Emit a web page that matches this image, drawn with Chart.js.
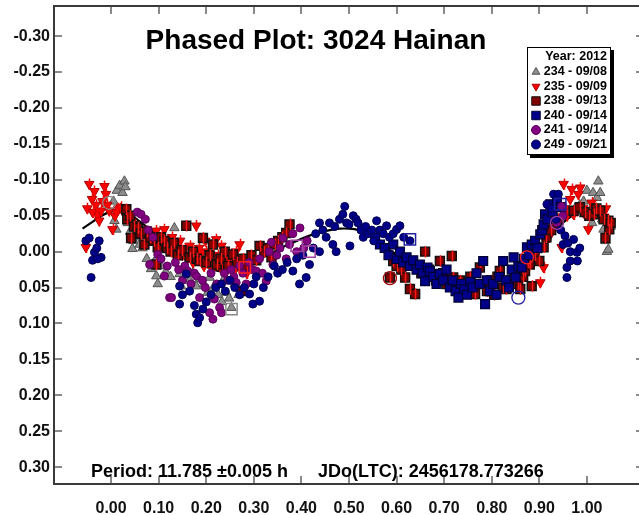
<!DOCTYPE html>
<html><head><meta charset="utf-8">
<script src="https://cdn.jsdelivr.net/npm/chart.js@4/dist/chart.umd.min.js"></script>
<style>html,body{margin:0;padding:0;background:#fff;overflow:hidden;}
#wrap{width:648px;height:515px;position:relative;}</style>
</head><body><div id="wrap"><canvas id="c" width="648" height="515"></canvas></div>
<script>
// ---------- DATA ----------
const titleText = "Phased Plot: 3024 Hainan";
const periodText = "Period: 11.785 \u00B10.005 h";
const jdText = "JDo(LTC): 2456178.773266";
const legendTitle = "Year: 2012";
const seriesNames = ["234 - 09/08","235 - 09/09","238 - 09/13","240 - 09/14","241 - 09/14","249 - 09/21"];
const xTicks = [0.00,0.10,0.20,0.30,0.40,0.50,0.60,0.70,0.80,0.90,1.00];
const yTicks = [-0.30,-0.25,-0.20,-0.15,-0.10,-0.05,0.00,0.05,0.10,0.15,0.20,0.25,0.30];

// [phase, reduced magnitude]
const s234 = [[0.005,-0.070],[0.012,-0.085],[0.018,-0.092],[0.024,-0.082],[0.028,-0.098],[0.030,-0.090],[0.007,-0.043],[0.011,-0.031],[0.020,-0.060],[0.035,-0.040],[0.040,-0.028],[0.045,-0.004],[0.047,-0.015],[0.052,-0.020],[0.060,-0.010],[0.066,-0.005],[0.075,0.010],[0.084,0.024],[0.090,0.015],[0.095,0.034],[0.098,0.045],[0.105,0.020],[0.115,0.028],[0.125,0.035],[0.133,-0.033],[0.144,0.031],[0.147,0.048],[0.155,0.025],[0.165,0.040],[0.172,0.030],[0.179,0.048],[0.186,0.038],[0.195,0.045],[0.203,0.057],[0.207,0.036],[0.215,0.050],[0.225,0.060],[0.233,0.070],[0.239,0.036],[0.242,0.057],[0.248,0.065],[0.253,0.078],[0.260,0.045],[0.268,0.060],
[0.955,-0.060],[0.965,-0.055],[0.975,-0.060],[0.985,-0.065],[0.993,-0.070],[1.000,-0.085],[1.007,-0.057],[1.011,-0.040],[1.013,-0.082],[1.018,-0.050],[1.021,-0.075],[1.024,-0.098],[1.028,-0.082],[1.032,-0.045],[1.035,-0.031],[1.039,-0.015],[1.042,0.000],[1.045,-0.003],[1.050,-0.035]];
const s235 = [[-0.053,-0.006],[-0.046,-0.094],[-0.040,-0.073],[-0.035,-0.084],[-0.030,-0.052],[-0.025,-0.043],[-0.021,-0.057],[-0.014,-0.091],[-0.011,-0.080],[-0.008,-0.065],[-0.004,-0.057],[0.003,-0.031],[0.008,-0.050],[0.011,-0.055],[0.015,-0.060],[0.020,-0.062],[-0.050,-0.060],[-0.039,-0.055],[-0.032,-0.065],[-0.018,-0.070],
[0.030,-0.050],[0.040,-0.045],[0.050,-0.038],[0.060,-0.030],[0.070,-0.028],[0.080,-0.020],[0.090,-0.015],[0.095,-0.029],[0.105,-0.012],[0.112,-0.031],[0.120,-0.005],[0.130,0.000],[0.140,-0.010],[0.150,0.005],[0.160,0.010],[0.165,-0.008],[0.172,0.015],[0.179,-0.036],[0.186,0.012],[0.195,0.020],[0.205,0.010],[0.213,0.025],[0.221,-0.017],[0.230,0.022],[0.240,0.030],[0.250,0.018],[0.260,0.025],[0.270,-0.010],[0.280,0.020],[0.290,0.015],[0.300,0.010],
[0.128,-0.020],[0.145,-0.015],[0.185,-0.005],[0.200,0.000],[0.225,0.005],[0.245,0.010],[0.262,0.000],
[0.100,-0.018],[0.110,-0.008],[0.135,-0.012],[0.155,-0.004],[0.168,0.004],[0.190,0.002],[0.208,0.016],[0.218,0.008],[0.235,0.014],[0.255,0.006],[0.275,0.012],[0.285,0.030],[0.232,-0.008],[0.198,-0.015],
[0.902,0.043],[0.909,0.022],[0.920,-0.020],[0.930,-0.035],[0.940,-0.045],[0.947,-0.006],[0.951,-0.094],[0.954,-0.060],[0.958,-0.050],[0.965,-0.073],[0.968,-0.087],[0.972,-0.052],[0.979,-0.057],[0.982,-0.080],[0.986,-0.089],[0.990,-0.060],[0.993,-0.054],[1.000,-0.057],[1.003,-0.031],[1.010,-0.068],[1.015,-0.055],[1.020,-0.060],[1.025,-0.052],[1.030,-0.048],[1.035,-0.055],[1.040,-0.060],[1.045,-0.045]];
const s238 = [[0.032,-0.059],[0.034,-0.045],[0.040,-0.050],[0.042,-0.019],[0.048,-0.035],[0.056,-0.033],[0.062,-0.025],[0.070,-0.010],[0.075,-0.028],[0.082,-0.020],[0.090,-0.015],[0.095,0.018],[0.098,-0.006],[0.105,-0.020],[0.112,-0.015],[0.118,-0.005],[0.125,0.000],[0.132,-0.012],[0.140,0.005],[0.148,-0.002],[0.158,-0.036],[0.165,0.008],[0.172,0.000],[0.180,0.010],[0.186,0.013],[0.193,-0.019],[0.200,0.015],[0.207,0.005],[0.214,-0.010],[0.222,0.018],[0.230,0.010],[0.239,0.000],[0.246,0.020],[0.256,0.004],[0.265,0.015],[0.274,0.055],[0.277,0.010],[0.285,0.020],[0.295,0.005],[0.305,0.012],[0.312,-0.008],[0.322,0.000],[0.330,-0.005],[0.337,0.008],[0.345,-0.010],[0.351,-0.015],[0.360,-0.020],[0.368,-0.026],[0.375,-0.038],
[0.586,0.036],[0.593,0.013],[0.600,0.020],[0.610,0.025],[0.618,0.036],[0.628,0.052],[0.639,0.059],[0.645,0.020],[0.652,0.030],[0.660,0.000],[0.668,0.025],[0.675,0.035],[0.683,0.040],[0.691,0.013],[0.698,0.030],[0.705,0.045],[0.716,0.006],[0.719,0.036],[0.726,0.050],[0.733,0.040],[0.740,0.055],[0.747,0.045],[0.755,0.035],[0.765,0.059],[0.775,0.022],[0.782,0.045],[0.790,0.055],[0.798,0.040],[0.805,0.060],[0.812,0.035],[0.817,0.027],[0.824,0.050],[0.831,0.052],[0.840,0.040],[0.848,0.030],[0.855,0.045],[0.860,0.052],[0.866,0.035],[0.870,0.027],[0.876,0.015],[0.880,0.018],[0.884,0.048],[0.890,0.005],[0.895,-0.005],[0.900,0.013],[0.909,-0.006],[0.915,-0.020],[0.925,-0.030],[0.940,-0.045],[0.972,-0.057],[0.985,-0.062],[0.995,-0.055],[1.005,-0.050],[1.014,-0.052],[1.020,-0.060],[1.028,-0.057],[1.035,-0.045],[1.039,-0.019],[1.045,-0.043],[1.047,-0.031],[1.050,-0.040]];
const s240 = [[0.555,-0.020],[0.565,-0.010],[0.575,-0.005],[0.583,0.005],[0.593,-0.010],[0.600,0.010],[0.607,0.000],[0.614,0.015],[0.621,0.008],[0.628,0.020],[0.635,0.012],[0.642,0.025],[0.649,0.018],[0.655,0.030],[0.660,0.041],[0.665,0.022],[0.670,0.027],[0.677,0.035],[0.684,0.045],[0.691,0.031],[0.698,0.040],[0.705,0.025],[0.712,0.050],[0.718,0.040],[0.724,0.055],[0.730,0.064],[0.736,0.045],[0.742,0.052],[0.748,0.060],[0.755,0.042],[0.760,0.050],[0.768,0.030],[0.775,0.045],[0.782,0.013],[0.786,0.073],[0.790,0.040],[0.796,0.055],[0.803,0.045],[0.810,0.060],[0.816,0.035],[0.824,0.013],[0.830,0.040],[0.836,0.050],[0.842,0.025],[0.846,0.008],[0.850,0.036],[0.856,0.020],[0.863,0.022],[0.868,0.010],[0.874,-0.006],[0.878,0.005],[0.884,-0.010],[0.891,-0.015],[0.896,-0.005],[0.902,-0.024],[0.906,-0.030],[0.909,-0.038],[0.912,-0.052],[0.917,-0.045],[0.923,-0.066],[0.928,-0.055],[0.937,-0.070],[0.945,-0.062]];
const s241 = [[0.055,-0.055],[0.063,-0.052],[0.072,-0.045],[0.078,-0.030],[0.081,0.018],[0.088,-0.020],[0.098,0.004],[0.105,0.010],[0.112,0.034],[0.118,0.020],[0.123,0.064],[0.127,0.064],[0.135,0.015],[0.142,0.025],[0.150,0.040],[0.155,0.020],[0.161,0.027],[0.168,0.045],[0.175,0.030],[0.179,0.034],[0.186,0.064],[0.192,0.040],[0.198,0.050],[0.207,0.085],[0.210,0.030],[0.214,0.094],[0.217,0.066],[0.222,0.045],[0.228,0.078],[0.232,0.085],[0.238,0.030],[0.245,0.040],[0.252,0.025],[0.258,0.035],[0.263,0.043],[0.270,0.020],[0.277,0.030],[0.284,0.045],[0.290,0.015],[0.297,0.025],[0.305,0.027],[0.312,0.010],[0.318,0.030],[0.326,0.041],[0.332,0.000],[0.337,-0.013],[0.340,0.018],[0.348,0.005],[0.355,-0.005],[0.361,-0.019],[0.368,0.010],[0.375,-0.010],[0.382,-0.025],[0.390,0.000],[0.397,-0.033],[0.405,-0.005],[0.412,-0.015],[0.937,-0.040],[0.947,-0.063],[0.950,-0.050]];
const s249 = [[-0.053,-0.015],[-0.046,-0.019],[-0.042,0.036],[-0.039,0.012],[-0.035,0.001],[-0.030,-0.005],[-0.025,-0.015],[-0.021,0.008],[-0.028,0.010],
[0.144,0.048],[0.144,0.073],[0.150,0.060],[0.158,0.031],[0.165,0.055],[0.175,0.075],[0.179,0.087],[0.182,0.099],[0.186,0.092],[0.193,0.080],[0.200,0.070],[0.210,0.060],[0.220,0.050],[0.232,0.045],[0.240,0.055],[0.250,0.040],[0.260,0.050],[0.270,0.060],[0.280,0.050],[0.291,0.059],[0.298,0.073],[0.300,0.045],[0.305,0.035],[0.312,0.069],[0.320,0.050],[0.330,0.035],[0.343,0.020],[0.350,0.030],[0.360,0.025],[0.370,0.015],[0.382,0.027],[0.390,0.010],[0.396,0.045],[0.403,0.005],[0.410,0.036],[0.417,0.018],[0.425,-0.005],[0.430,-0.025],[0.438,0.000],[0.438,-0.040],[0.445,-0.030],[0.452,-0.020],[0.459,-0.040],[0.466,-0.010],[0.470,-0.035],[0.473,0.000],[0.480,-0.045],[0.487,-0.052],[0.491,-0.063],[0.495,-0.040],[0.500,-0.038],[0.502,-0.008],[0.509,-0.050],[0.515,-0.045],[0.519,-0.040],[0.525,-0.030],[0.530,-0.020],[0.535,-0.035],[0.540,-0.025],[0.548,-0.030],[0.552,-0.015],[0.558,-0.043],[0.565,-0.030],[0.572,-0.025],[0.579,-0.036],[0.585,-0.020],[0.593,-0.025],[0.600,-0.031],[0.607,-0.036],[0.615,-0.020],[0.628,-0.015],
[0.916,-0.066],[0.925,-0.060],[0.930,-0.080],[0.940,-0.080],[0.935,-0.045],[0.945,-0.030],[0.950,-0.010],[0.954,-0.022],[0.958,0.022],[0.958,0.036],[0.960,-0.012],[0.965,0.000],[0.965,0.013],[0.972,-0.017],[0.979,0.001],[0.980,0.013],[0.985,-0.005]];
// highlighted (ringed) observations: [phase, mag]
const ringCircles = [[-0.004,-0.068],[0.586,0.037],[0.856,0.064],[0.874,0.008],[0.937,-0.040]];
const ringSquares = [[0.253,0.080],[0.281,0.022],[0.390,-0.008],[0.417,0.000],[0.628,-0.017],[0.944,-0.066]];
// magnitude error (half-length of error bar)
const errMag = 0.008;
// Fourier fit curve
const fitPhase = [-0.06,-0.04,-0.02,0.00,0.02,0.04,0.06,0.08,0.10,0.12,0.14,0.16,0.18,0.20,0.22,0.24,0.26,0.28,0.30,0.32,0.34,0.36,0.38,0.40,0.42,0.44,0.46,0.48,0.50,0.52,0.54,0.56,0.58,0.60,0.62,0.64,0.66,0.68,0.70,0.72,0.74,0.76,0.78,0.80,0.82,0.84,0.86,0.88,0.90,0.92,0.94,0.96,0.98,1.00,1.02,1.04,1.06];
const fitMag = [-0.032,-0.041,-0.050,-0.056,-0.058,-0.052,-0.042,-0.032,-0.022,-0.012,-0.003,0.006,0.014,0.021,0.026,0.028,0.027,0.022,0.015,0.008,0.001,-0.006,-0.012,-0.018,-0.023,-0.027,-0.030,-0.032,-0.032,-0.030,-0.024,-0.015,-0.005,0.004,0.011,0.018,0.024,0.031,0.037,0.042,0.046,0.049,0.050,0.049,0.046,0.040,0.030,0.016,0.000,-0.018,-0.034,-0.046,-0.054,-0.056,-0.058,-0.052,-0.042];

// ---------- CHART ----------
const FONT = "'Liberation Sans', Arial, sans-serif";
const toXY = arr => arr.map(p => ({x:p[0], y:p[1]}));
const styles = [
  {pointStyle:'triangle', rotation:0, radius:5.5, bg:'#8c8c8c', border:'#555555', bw:1},
  {pointStyle:'triangle', rotation:180, radius:5.5, bg:'#ff0000', border:'#a80000', bw:1},
  {pointStyle:'rect', rotation:0, radius:6.3, bg:'#800000', border:'#111111', bw:1.5},
  {pointStyle:'rect', rotation:0, radius:6.3, bg:'#000088', border:'#000033', bw:1.2},
  {pointStyle:'circle', rotation:0, radius:4, bg:'#800080', border:'#5a005a', bw:1},
  {pointStyle:'circle', rotation:0, radius:4, bg:'#000088', border:'#000050', bw:1}
];
const errColors = {1:'#ff0000', 2:'#ff1a1a'};
const seriesData = [s234, s235, s238, s240, s241, s249];
const datasets = seriesData.map((d,i)=>({
  type:'scatter', label:seriesNames[i], data:toXY(d), order:6-i,
  pointStyle:styles[i].pointStyle, rotation:styles[i].rotation, pointRadius:styles[i].radius,
  backgroundColor:styles[i].bg, borderColor:styles[i].border, borderWidth:styles[i].bw,
  pointHoverRadius:styles[i].radius
}));
datasets.push({type:'line', label:'fit', data:fitPhase.map((p,i)=>({x:p,y:fitMag[i]})), order:10,
  borderColor:'#000', borderWidth:2.2, pointRadius:0, fill:false, tension:0.3});
datasets.push({type:'scatter', label:'ringC', data:toXY(ringCircles), order:0, pointStyle:'circle', pointRadius:6.5,
  backgroundColor:'rgba(0,0,0,0)', borderColor:['#888888','#a00000','#2020a0','#ff2020','#a040a0'], borderWidth:1.3});
datasets.push({type:'scatter', label:'ringS', data:toXY(ringSquares), order:0, pointStyle:'rect', pointRadius:8,
  backgroundColor:'rgba(0,0,0,0)', borderColor:['#888888','#ff2020','#a040a0','#a040a0','#2020a0','#2020a0'], borderWidth:1.5});

const errPlugin = {
  id:'errbars',
  afterDatasetDraw(chart, args){
    const col = errColors[args.index];
    if (!col) return;
    const {ctx, scales:{x,y}, chartArea:a} = chart;
    const d = seriesData[args.index];
    ctx.save();
    ctx.beginPath(); ctx.rect(a.left,a.top,a.right-a.left,a.bottom-a.top); ctx.clip();
    ctx.strokeStyle=col; ctx.lineWidth=1.5;
    ctx.beginPath();
    d.forEach(p=>{
      const px = Math.round(x.getPixelForValue(p[0]))+0.5;
      ctx.moveTo(px, y.getPixelForValue(p[1]-errMag));
      ctx.lineTo(px, y.getPixelForValue(p[1]+errMag));
    });
    ctx.stroke();
    ctx.restore();
  }
};

const framePlugin = {
  id:'frame',
  afterDraw(chart){
    const {ctx, chartArea:a, scales:{x,y}} = chart;
    ctx.save();
    ctx.strokeStyle='#8a8a8a'; ctx.lineWidth=2;
    const tl=8;
    ctx.beginPath();
    x.ticks.forEach(t=>{const px=Math.round(x.getPixelForValue(t.value)); ctx.moveTo(px,a.bottom); ctx.lineTo(px,a.bottom-tl); ctx.moveTo(px,a.top); ctx.lineTo(px,a.top+tl);});
    y.ticks.forEach(t=>{const py=Math.round(y.getPixelForValue(t.value)); ctx.moveTo(a.left,py); ctx.lineTo(a.left+tl,py); ctx.moveTo(a.right,py); ctx.lineTo(a.right-tl,py);});
    ctx.stroke();
    ctx.strokeStyle='#3a3a3a'; ctx.lineWidth=2;
    ctx.strokeRect(a.left,a.top,a.right-a.left,a.bottom-a.top);
    // texts
    ctx.fillStyle='#000';
    ctx.textBaseline='middle';
    ctx.textAlign='center';
    ctx.font="bold 28px "+FONT;
    ctx.fillText(titleText, 316, 41);
    ctx.textAlign='left';
    ctx.font="bold 18px "+FONT;
    ctx.fillText(periodText, 91, 472);
    ctx.fillText(jdText, 318, 472);
    // legend
    const L=527, T=47, R=611, B=155;
    ctx.fillStyle='#000';
    ctx.fillRect(L+3,T+3,R-L,B-T);
    ctx.fillStyle='#fff';
    ctx.fillRect(L,T,R-L,B-T);
    ctx.strokeStyle='#000'; ctx.lineWidth=1;
    ctx.strokeRect(L+0.5,T+0.5,R-L-1,B-T-1);
    ctx.fillStyle='#000';
    ctx.font="bold 12.5px "+FONT;
    ctx.textAlign='right';
    ctx.fillText(legendTitle, 607, 57);
    seriesNames.forEach((n,i)=>{
      const yy = 72 + i*14.5;
      ctx.fillStyle='#000';
      ctx.fillText(n, 607, yy);
      const s=styles[i];
      ctx.fillStyle=s.bg; ctx.strokeStyle=s.border; ctx.lineWidth=1;
      Chart.helpers.drawPoint(ctx,{pointStyle:s.pointStyle, rotation:s.rotation, radius:s.pointStyle==='rect'?6:4.5, borderWidth:1}, 536, yy);
    });
    ctx.restore();
  }
};

new Chart(document.getElementById('c'), {
  data:{datasets},
  options:{
    responsive:false, animation:false,
    layout:{autoPadding:false, padding:{top:6,right:4,left:0,bottom:0}},
    plugins:{legend:{display:false}, tooltip:{enabled:false}},
    scales:{
      x:{type:'linear', min:-0.12, max:1.12,
        grid:{display:false, drawTicks:false}, border:{display:false},
        afterBuildTicks:s=>{s.ticks = xTicks.map(v=>({value:v}));},
        afterFit:s=>{s.height=31; s.paddingLeft=0; s.paddingRight=0;},
        ticks:{padding:15, color:'#111', font:{family:FONT, size:16, weight:'bold'},
          callback:v=>(Math.abs(v)<1e-9?0:v).toFixed(2)}},
      y:{type:'linear', reverse:true, min:-0.342, max:0.3235,
        grid:{display:false, drawTicks:false}, border:{display:false},
        afterBuildTicks:s=>{s.ticks = yTicks.map(v=>({value:v}));},
        afterFit:s=>{s.width=54; s.paddingTop=0; s.paddingBottom=0;},
        ticks:{padding:4, color:'#111', font:{family:FONT, size:16, weight:'bold'},
          callback:v=>(Math.abs(v)<1e-9?0:v).toFixed(2)}}
    }
  },
  plugins:[errPlugin, framePlugin]
});
</script></body></html>
